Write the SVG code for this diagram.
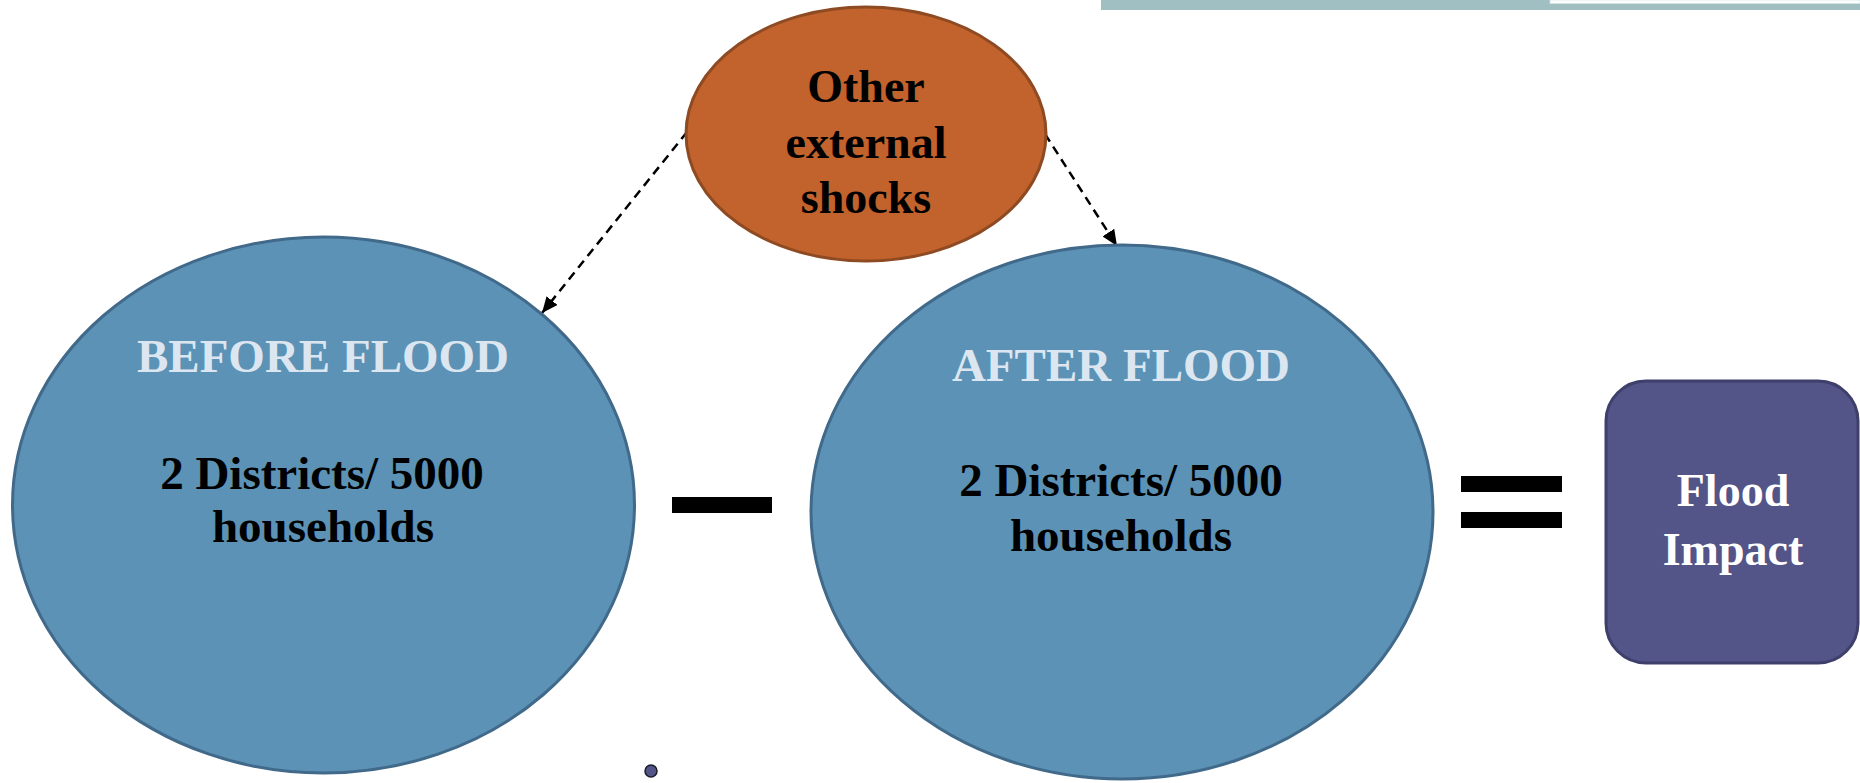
<svg xmlns="http://www.w3.org/2000/svg" width="1860" height="783" viewBox="0 0 1860 783">
  <defs>
    <marker id="arrow" markerWidth="16" markerHeight="14" refX="16" refY="7" orient="auto" markerUnits="userSpaceOnUse" viewBox="0 0 16 14">
      <path d="M0,0 L16,7 L0,14 Z" fill="#000"/>
    </marker>
    <style>
      .blue { fill: #5B92B5; stroke: #41698A; stroke-width: 3; }
      .orange { fill: #C2622C; stroke: #8E4A22; stroke-width: 3; }
      .purple { fill: #535488; stroke: #3E3F6B; stroke-width: 3; }
      .t { font-family: "Liberation Serif", "Times New Roman", serif; font-weight: bold; text-anchor: middle; }
      .head { fill: #DCE6F0; font-size: 47px; }
      .body { fill: #000; font-size: 47px; }
      .w { fill: #fff; font-size: 46px; }
      .dash { fill: none; stroke: #000; stroke-width: 2.5; stroke-dasharray: 9 6; }
    </style>
  </defs>
  <rect width="1860" height="783" fill="#fff"/>
  <g id="topbar">
    <rect x="1101" y="0" width="759" height="10" fill="#A0BFC2"/>
    <rect x="1550" y="0" width="310" height="3.5" fill="#fff" stroke="#D6E4E6" stroke-width="0.8"/>
  </g>
  <g id="connectors">
    <line class="dash" x1="687" y1="132" x2="542" y2="313" marker-end="url(#arrow)"/>
    <line class="dash" x1="1045" y1="134" x2="1117" y2="246" marker-end="url(#arrow)"/>
  </g>
  <g id="before">
    <ellipse class="blue" cx="323.5" cy="505" rx="311" ry="268"/>
    <text class="t head" x="323" y="372">BEFORE FLOOD</text>
    <text class="t body" x="322" y="489">2 Districts/ 5000</text>
    <text class="t body" x="323" y="542">households</text>
  </g>
  <g id="after">
    <ellipse class="blue" cx="1122" cy="512" rx="311" ry="267"/>
    <text class="t head" x="1121" y="381">AFTER FLOOD</text>
    <text class="t body" x="1121" y="496">2 Districts/ 5000</text>
    <text class="t body" x="1121" y="551">households</text>
  </g>
  <g id="shocks">
    <ellipse class="orange" cx="866" cy="134" rx="180" ry="127"/>
    <text class="t body" x="866" y="102" style="font-size:46px">Other</text>
    <text class="t body" x="866" y="158" style="font-size:46px">external</text>
    <text class="t body" x="866" y="213" style="font-size:46px">shocks</text>
  </g>
  <g id="minus">
    <rect x="672" y="497" width="100" height="16" fill="#000"/>
  </g>
  <g id="equals">
    <rect x="1461" y="476" width="101" height="16" fill="#000"/>
    <rect x="1461" y="512" width="101" height="16" fill="#000"/>
  </g>
  <g id="impact">
    <rect class="purple" x="1606" y="381" width="252" height="282" rx="40" ry="40"/>
    <text class="t w" x="1733" y="506">Flood</text>
    <text class="t w" x="1733" y="565">Impact</text>
  </g>
  <g id="dot">
    <circle cx="651" cy="771" r="6" fill="#535488" stroke="#1a1a2a" stroke-width="1.5"/>
  </g>
</svg>
